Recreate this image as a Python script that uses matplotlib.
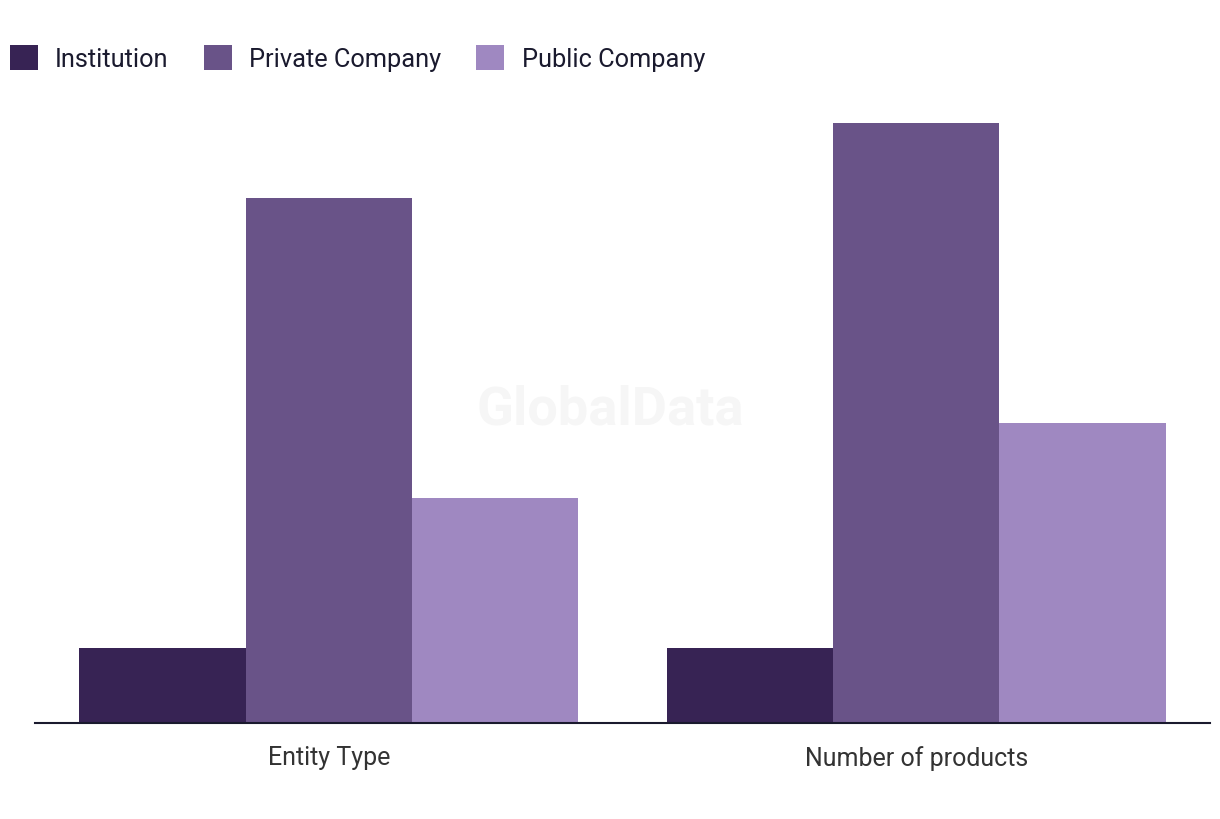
import numpy as np
import matplotlib.pyplot as plt
from matplotlib.patches import Patch

plt.rcParams['font.family'] = ['Roboto', 'DejaVu Sans']

categories = ['Entity Type', 'Number of products']
series = ['Institution', 'Private Company', 'Public Company']
institution = [1, 1]
private_company = [7, 8]
public_company = [3, 4]
colors = ['#372354', '#695388', '#9f88c1']

fig = plt.figure(figsize=(12.2, 8.2), dpi=100)
ax = fig.add_axes([0.0287, 0.1171, 0.9631, 0.7317])

x = np.arange(len(categories))
w = 0.85 / 3
values = [institution, private_company, public_company]
for i, (name, vals) in enumerate(zip(series, values)):
    ax.bar(x + (i - 1) * w, vals, width=w, color=colors[i], label=name)

ax.set_xlim(-0.5, 1.5)
ax.set_ylim(0, 8)
ax.set_xticks(x)
ax.set_xticklabels(categories, fontsize=18, color='#333333')
ax.tick_params(axis='x', length=0, pad=16)
ax.set_yticks([])
for s in ['top', 'right', 'left']:
    ax.spines[s].set_visible(False)
ax.spines['bottom'].set_color('#1a1a2e')
ax.spines['bottom'].set_linewidth(1.5)

# watermark
fig.text(0.5, 0.5, 'GlobalData', fontsize=39, fontweight='bold',
         color='#f6f6f6', ha='center', va='center', zorder=0)

handles = [Patch(facecolor=c, label=n) for c, n in zip(colors, series)]
fig.legend(handles=handles, loc='center left', bbox_to_anchor=(0.0082, 0.928),
           ncol=3, frameon=False, fontsize=18.3, handlelength=1.1,
           handleheight=1.1, handletextpad=0.68, columnspacing=1.38,
           borderaxespad=0, borderpad=0, labelcolor='#1a1a2e')

fig.savefig('out.png', dpi=100)
